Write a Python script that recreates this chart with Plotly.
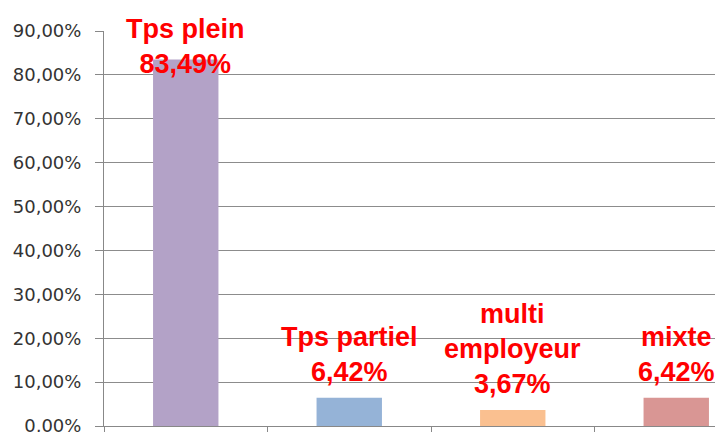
import plotly.graph_objects as go

categories = ["Tps plein", "Tps partiel", "multi employeur", "mixte"]
label_names = ["Tps plein", "Tps partiel", "multi<br>employeur", "mixte"]
values = [83.49, 6.42, 3.67, 6.42]
bar_colors = ["#B3A2C7", "#95B3D7", "#FAC090", "#D99694"]
y_ticks = [0, 10, 20, 30, 40, 50, 60, 70, 80, 90]
label_yshift = [-21, 9, 9, 9]


def fr_pct(v):
    return f"{v:.2f}".replace(".", ",") + "%"


fig = go.Figure()
fig.add_trace(go.Bar(
    x=categories, y=values, marker=dict(color=bar_colors, line=dict(width=0)),
    width=0.4, hoverinfo="skip",
))

for c, n, v, ys in zip(categories, label_names, values, label_yshift):
    fig.add_annotation(
        x=c, y=v, xref="x", yref="y", text=f"{n}<br>{fr_pct(v)}",
        showarrow=False, yanchor="bottom", xanchor="center", yshift=ys,
        font=dict(family="Liberation Sans", size=27, color="#FF0000", weight="bold"),
    )

fig.update_layout(
    width=715, height=432,
    margin=dict(l=104, r=0, t=31, b=6, autoexpand=False),
    paper_bgcolor="white", plot_bgcolor="white",
    showlegend=False, bargap=0.6,
)
fig.update_xaxes(
    range=[-0.5, -0.5 + (715 - 104) / 163.5], automargin=False,
    showticklabels=False, ticks="outside", ticklen=6, tickson="boundaries",
    tickcolor="#888888", showline=True, linecolor="#888888", linewidth=1,
    showgrid=False, zeroline=False,
)
fig.update_yaxes(
    range=[0, 90], tickvals=y_ticks, ticktext=[fr_pct(t) for t in y_ticks],
    ticks="outside", ticklen=8, tickcolor="#888888", ticklabelstandoff=10,
    ticklabeloverflow="allow", automargin=False,
    showline=True, linecolor="#888888", linewidth=1,
    showgrid=True, gridcolor="#8c8c8c", gridwidth=1, zeroline=False,
    tickfont=dict(family="DejaVu Sans", size=18, color="#333333"),
)

fig.write_html("out.html")
